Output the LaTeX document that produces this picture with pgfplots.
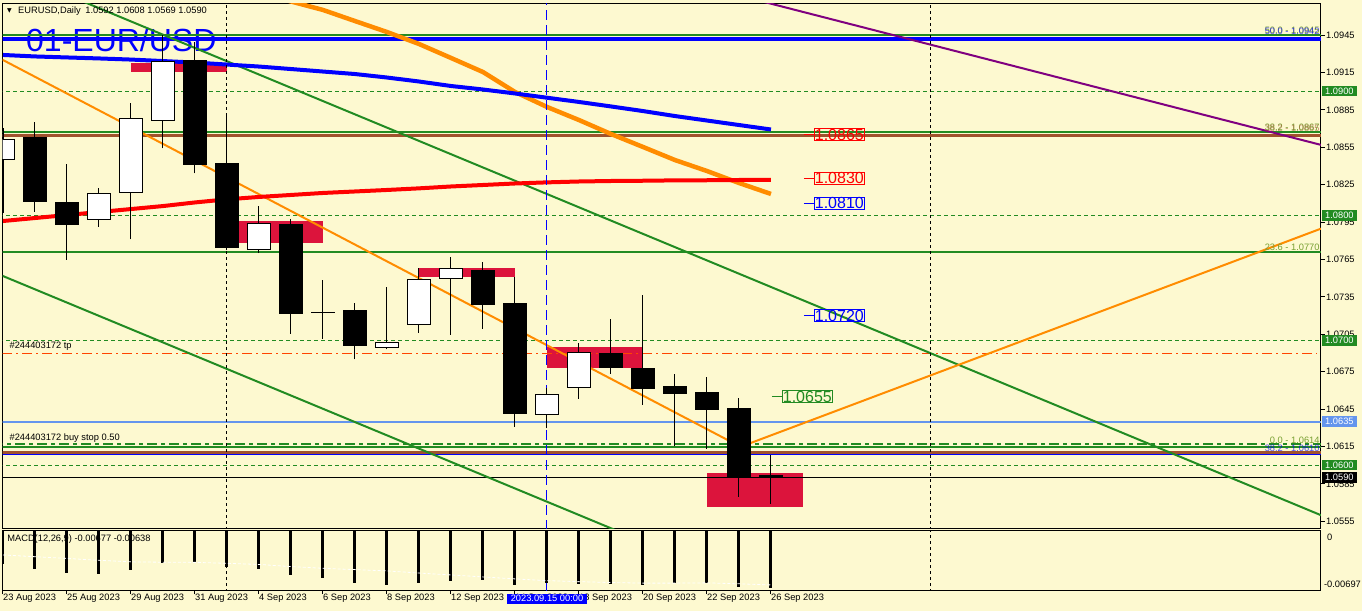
\documentclass[border=0pt]{standalone}
\usepackage{fontspec}
\setmainfont{Liberation Sans}
\newfontfamily\djv{DejaVu Sans}
\usepackage{pgfplots}
\pgfplotsset{compat=1.18}

\definecolor{bg}{RGB}{253,249,208}
\definecolor{crim}{RGB}{220,20,60}
\definecolor{fgreen}{RGB}{34,139,34}
\definecolor{sienna}{RGB}{160,82,45}
\definecolor{dorange}{RGB}{255,140,0}
\definecolor{oranred}{RGB}{255,69,0}
\definecolor{cflower}{RGB}{100,149,237}
\definecolor{purp}{RGB}{128,0,128}
\definecolor{fibtxt}{RGB}{120,160,50}

\newcommand{\sm}{\fontsize{9.3}{11}\selectfont}
% candle: fill colour, index, open, high, low, close
\newcommand{\cndl}[6]{%
  \pgfmathsetmacro\xl{#2-0.37}\pgfmathsetmacro\xr{#2+0.37}%
  \addplot[black, line width=1pt] coordinates {(#2,#5) (#2,#4)};
  \addplot[draw=black, fill=#1, line width=1pt] coordinates {(\xl,#3) (\xr,#3) (\xr,#6) (\xl,#6)} -- cycle;
}
\newcommand{\zone}[4]{%
  \addplot[draw=none, fill=crim] coordinates {(#1,#2) (#3,#2) (#3,#4) (#1,#4)} -- cycle;
}
\newcommand{\hl}[2]{\addplot[#1] coordinates {(-1,#2) (42,#2)};}

\begin{document}
\begin{tikzpicture}[x=1pt,y=1pt]
\useasboundingbox (0,0) rectangle (1362,-611);
\fill[bg] (0,0) rectangle (1362,-611);
\node[anchor=base west, text=blue, font=\fontsize{32}{34}\selectfont, inner sep=0pt] at (26,-51.7) {01-EUR/USD};

\begin{axis}[
  anchor=north west, at={(2.5pt,-3pt)},
  width=1318.5pt, height=525pt, scale only axis,
  xmin=-0.0156, xmax=41.1875, ymin=1.054956, ymax=1.097067,
  clip mode=individual,
  axis line style={black, line width=1pt},
  xtick=\empty,
  ytick={1.0555,1.0585,1.0615,1.0645,1.0675,1.0705,1.0735,1.0765,1.0795,1.0825,1.0855,1.0885,1.0915,1.0945},
  ytick pos=right, yticklabel pos=right, scaled y ticks=false,
  tick align=outside, major tick length=4pt, tick style={black, line width=1pt},
  /pgf/number format/assume math mode=true,
  yticklabel style={font=\sm, anchor=west, inner sep=0pt, xshift=1pt,
    /pgf/number format/fixed, /pgf/number format/fixed zerofill, /pgf/number format/precision=4},
]
% zones
\zone{4}{1.09156}{7}{1.09228}
\zone{7}{1.07784}{10}{1.07958}
\zone{13}{1.07511}{16}{1.07581}
\zone{17}{1.06781}{20}{1.06947}
\zone{22}{1.05667}{25}{1.05937}
% horizontal levels
\hl{fgreen, line width=2pt}{1.09452}
\hl{blue, line width=4pt}{1.09420}
\hl{fgreen, line width=1pt, dash pattern=on 4pt off 3pt}{1.09000}
\hl{fgreen, line width=2pt}{1.08672}
\hl{sienna, line width=3pt}{1.08642}
\hl{fgreen, line width=1pt, dash pattern=on 4pt off 3pt}{1.08000}
\hl{fgreen, line width=2pt}{1.07707}
\hl{fgreen, line width=1pt, dash pattern=on 4pt off 3pt}{1.07000}
\addplot[oranred, line width=1pt, dash pattern=on 10pt off 4pt on 2pt off 4pt] coordinates {(-0.02,1.06899) (41.06,1.06899)};
\hl{cflower, line width=2pt}{1.06348}
\hl{fgreen, line width=1.2pt, dash pattern=on 10pt off 4pt on 4pt off 4pt}{1.06169}
\hl{fgreen, line width=2pt}{1.06148}
\hl{sienna, line width=3pt}{1.06105}
\hl{blue, line width=1.5pt}{1.06086}
\hl{fgreen, line width=1pt, dash pattern=on 4pt off 3pt}{1.06000}
\hl{black, line width=1pt}{1.05900}
% trend lines
\addplot[purp, line width=2pt] coordinates {(23,1.09767) (41.5,1.08548)};
\addplot[fgreen, line width=2pt] coordinates {(2,1.09772) (41.5,1.05565)};
\addplot[fgreen, line width=2pt] coordinates {(-1,1.07623) (20,1.05387)};
\addplot[dorange, line width=2pt] coordinates {(-1,1.09384) (23.05,1.06147) (41.5,1.07927)};
% moving averages
\addplot[dorange, line width=4.5pt] coordinates {
(8,1.09795) (9,1.09719) (10,1.09651) (11,1.09562) (12,1.09474) (13,1.09378) (14,1.09266)
(15,1.09153) (16,1.08993) (17,1.08873) (18,1.08768) (19,1.08656) (20,1.08552)
(21,1.08447) (22,1.08359) (23,1.08263) (24,1.08175)};
\addplot[blue, line width=4pt] coordinates {
(0,1.09290) (1,1.09278) (2,1.09270) (3,1.09262) (4,1.09253) (5,1.09241) (6,1.09229)
(7,1.09213) (8,1.09197) (9,1.09177) (10,1.09157) (11,1.09137) (12,1.09109) (13,1.09077)
(14,1.09041) (15,1.09013) (16,1.08981) (17,1.08947) (18,1.08913) (19,1.08877) (20,1.08840)
(21,1.08800) (22,1.08764) (23,1.08728) (24,1.08692)};
\addplot[red, line width=4pt] coordinates {
(0,1.07958) (1,1.07982) (2,1.08006) (3,1.08030) (4,1.08054) (5,1.08078) (6,1.08107)
(7,1.08132) (8,1.08151) (9,1.08167) (10,1.08183) (11,1.08195) (12,1.08207) (13,1.08220)
(14,1.08235) (15,1.08247) (16,1.08259) (17,1.08268) (18,1.08275) (19,1.08279) (20,1.08281)
(21,1.08284) (22,1.08285) (23,1.08287) (24,1.08287)};
% vertical separators
\addplot[black, line width=1pt, dash pattern=on 3pt off 3pt] coordinates {(7,1.05) (7,1.1)};
\addplot[blue, line width=1pt, dash pattern=on 10pt off 5pt] coordinates {(17,1.05) (17,1.1)};
\addplot[black, line width=1pt, dash pattern=on 3pt off 3pt] coordinates {(29,1.05) (29,1.1)};
% candles
\cndl{white}{0}{1.08453}{1.08704}{1.08022}{1.08613}
\cndl{black}{1}{1.08624}{1.08750}{1.08033}{1.08113}
\cndl{black}{2}{1.08108}{1.08415}{1.07648}{1.07928}
\cndl{white}{3}{1.07972}{1.08223}{1.07912}{1.08180}
\cndl{white}{4}{1.08188}{1.08902}{1.07811}{1.08782}
\cndl{white}{5}{1.08766}{1.09450}{1.08541}{1.09239}
\cndl{black}{6}{1.09247}{1.09396}{1.08341}{1.08413}
\cndl{black}{7}{1.08421}{1.08808}{1.07726}{1.07747}
\cndl{white}{8}{1.07731}{1.08076}{1.07700}{1.07940}
\cndl{black}{9}{1.07934}{1.07972}{1.07054}{1.07215}
\cndl{black}{10}{1.07227}{1.07485}{1.07012}{1.07224}
\cndl{black}{11}{1.07244}{1.07300}{1.06849}{1.06958}
\cndl{white}{12}{1.06945}{1.07429}{1.06929}{1.06985}
\cndl{white}{13}{1.07130}{1.07579}{1.07062}{1.07490}
\cndl{white}{14}{1.07499}{1.07669}{1.07044}{1.07579}
\cndl{black}{15}{1.07565}{1.07629}{1.07094}{1.07287}
\cndl{black}{16}{1.07300}{1.07509}{1.06308}{1.06412}
\cndl{white}{17}{1.06408}{1.06619}{1.06295}{1.06568}
\cndl{white}{18}{1.06624}{1.06977}{1.06533}{1.06905}
\cndl{black}{19}{1.06899}{1.07172}{1.06733}{1.06781}
\cndl{black}{20}{1.06779}{1.07365}{1.06485}{1.06613}
\cndl{black}{21}{1.06627}{1.06731}{1.06156}{1.06573}
\cndl{black}{22}{1.06584}{1.06707}{1.06132}{1.06445}
\cndl{black}{23}{1.06456}{1.06536}{1.05747}{1.05907}
\cndl{black}{24}{1.05920}{1.06080}{1.05690}{1.05900}
% price tags on the chart
\draw[red, line width=1pt] (axis cs:25.03,1.0865) -- (axis cs:25.34,1.0865);
\node[draw=red, text=red, line width=1pt, anchor=west, inner sep=0.5pt, font=\fontsize{16}{16}\selectfont] at (axis cs:25.34,1.0865) {1.0865};
\draw[red, line width=1pt] (axis cs:25.03,1.0830) -- (axis cs:25.34,1.0830);
\node[draw=red, text=red, line width=1pt, anchor=west, inner sep=0.5pt, font=\fontsize{16}{16}\selectfont] at (axis cs:25.34,1.0830) {1.0830};
\draw[blue, line width=1pt] (axis cs:25.03,1.0810) -- (axis cs:25.34,1.0810);
\node[draw=blue, text=blue, line width=1pt, anchor=west, inner sep=0.5pt, font=\fontsize{16}{16}\selectfont] at (axis cs:25.34,1.0810) {1.0810};
\draw[blue, line width=1pt] (axis cs:25.03,1.0720) -- (axis cs:25.34,1.0720);
\node[draw=blue, text=blue, line width=1pt, anchor=west, inner sep=0.5pt, font=\fontsize{16}{16}\selectfont] at (axis cs:25.34,1.0720) {1.0720};
\draw[fgreen, line width=1pt] (axis cs:24.03,1.0655) -- (axis cs:24.34,1.0655);
\node[draw=fgreen, text=fgreen, line width=1pt, anchor=west, inner sep=0.5pt, font=\fontsize{16}{16}\selectfont] at (axis cs:24.34,1.0655) {1.0655};
% fibo texts
\node[anchor=south east, inner sep=0pt, text=fibtxt, font=\sm] at (axis cs:41.15,1.09462) {50.0 - 1.0945};
\node[anchor=south east, inner sep=0pt, text=blue, font=\sm, opacity=0.7] at (axis cs:41.15,1.09450) {50.0 - 1.0942};
\node[anchor=south east, inner sep=0pt, text=fibtxt, font=\sm] at (axis cs:41.15,1.08685) {38.2 - 1.0867};
\node[anchor=south east, inner sep=0pt, text=sienna, font=\sm, opacity=0.6] at (axis cs:41.15,1.08675) {38.2 - 1.0865};
\node[anchor=south east, inner sep=0pt, text=fibtxt, font=\sm] at (axis cs:41.15,1.07720) {23.6 - 1.0770};
\node[anchor=south east, inner sep=0pt, text=fibtxt, font=\sm] at (axis cs:41.15,1.06175) {0.0 - 1.0614};
\node[anchor=south east, inner sep=0pt, text=blue, font=\sm, opacity=0.7] at (axis cs:41.15,1.06110) {38.2 - 1.0610};
% order texts
\node[anchor=west, inner sep=0pt, font=\sm] at (axis cs:0.2,1.06955) {\#244403172 tp};
\node[anchor=west, inner sep=0pt, font=\sm] at (axis cs:0.2,1.06215) {\#244403172 buy stop 0.50};
% right scale tags
\node[fill=fgreen, text=white, anchor=west, inner xsep=3pt, inner ysep=2pt, font=\sm] at (axis cs:41.22,1.0900) {1.0900};
\node[fill=fgreen, text=white, anchor=west, inner xsep=3pt, inner ysep=2pt, font=\sm] at (axis cs:41.22,1.0800) {1.0800};
\node[fill=fgreen, text=white, anchor=west, inner xsep=3pt, inner ysep=2pt, font=\sm] at (axis cs:41.22,1.0700) {1.0700};
\node[fill=cflower, text=white, anchor=west, inner xsep=3pt, inner ysep=2pt, font=\sm] at (axis cs:41.22,1.0635) {1.0635};
\node[fill=fgreen, text=white, anchor=west, inner xsep=3pt, inner ysep=2pt, font=\sm] at (axis cs:41.22,1.0600) {1.0600};
\node[fill=black, text=white, anchor=west, inner xsep=3pt, inner ysep=2pt, font=\sm] at (axis cs:41.22,1.0590) {1.0590};
\end{axis}

\begin{axis}[
  anchor=north west, at={(2.5pt,-530pt)},
  width=1318.5pt, height=60pt, scale only axis,
  xmin=-0.0156, xmax=41.1875, ymin=-0.00697, ymax=0,
  clip mode=individual,
  axis line style={black, line width=1pt},
  ytick=\empty,
  xtick={0,2,4,6,8,10,12,14,16,18,20,22,24},
  xticklabels={23 Aug 2023,25 Aug 2023,29 Aug 2023,31 Aug 2023,4 Sep 2023,6 Sep 2023,8 Sep 2023,12 Sep 2023,14 Sep 2023,18 Sep 2023,20 Sep 2023,22 Sep 2023,26 Sep 2023},
  xtick pos=bottom, tick align=outside, major tick length=4pt, tick style={black, line width=1pt},
  xticklabel style={font=\sm, anchor=north west, inner sep=0pt},
]
\addplot[black, line width=1pt, dash pattern=on 3pt off 3pt] coordinates {(7,-0.01) (7,0.001)};
\addplot[blue, line width=1pt] coordinates {(17,-0.01) (17,0.001)};
\addplot[black, line width=1pt, dash pattern=on 3pt off 3pt] coordinates {(29,-0.01) (29,0.001)};
\addplot[ycomb, black, line width=3pt] coordinates {
(0,-0.00398) (1,-0.00453) (2,-0.00496) (3,-0.00507) (4,-0.00465) (5,-0.00383) (6,-0.00383)
(7,-0.00430) (8,-0.00453) (9,-0.00523) (10,-0.00558) (11,-0.00616) (12,-0.00639) (13,-0.00616)
(14,-0.00592) (15,-0.00581) (16,-0.00639) (17,-0.00610) (18,-0.00631) (19,-0.00631) (20,-0.00639)
(21,-0.00619) (22,-0.00616) (23,-0.00662) (24,-0.00677)};
\addplot[white, line width=0.8pt, dash pattern=on 3pt off 2pt] coordinates {
(0,-0.00290) (1,-0.00310) (2,-0.00330) (3,-0.00352) (4,-0.00370) (5,-0.00374) (6,-0.00376)
(7,-0.00387) (8,-0.00400) (9,-0.00425) (10,-0.00445) (11,-0.00460) (12,-0.00475) (13,-0.00500)
(14,-0.00522) (15,-0.00545) (16,-0.00568) (17,-0.00588) (18,-0.00600) (19,-0.00610) (20,-0.00617)
(21,-0.00617) (22,-0.00614) (23,-0.00625) (24,-0.00638)};
\node[anchor=west, inner sep=0pt, font=\sm] at (axis cs:0.13,-0.00111) {MACD(12,26,9) -0.00677 -0.00638};
\node[anchor=west, inner sep=0pt, font=\sm] at (axis cs:41.37,-0.00080) {0};
\node[anchor=west, inner sep=0pt, font=\sm] at (axis cs:41.28,-0.00630) {-0.00697};
\end{axis}

\node[fill=blue, text=white, inner xsep=3.5pt, inner ysep=1.5pt, font=\sm] at (547,-598.7) {2023.09.15 00:00};
\node[anchor=west, inner sep=0pt, font={\djv\fontsize{6}{6}\selectfont}] at (7,-11) {▼};
\node[anchor=west, inner sep=0pt, font=\sm] at (18,-11) {EURUSD,Daily\enspace 1.0592 1.0608 1.0569 1.0590};
\end{tikzpicture}
\end{document}
